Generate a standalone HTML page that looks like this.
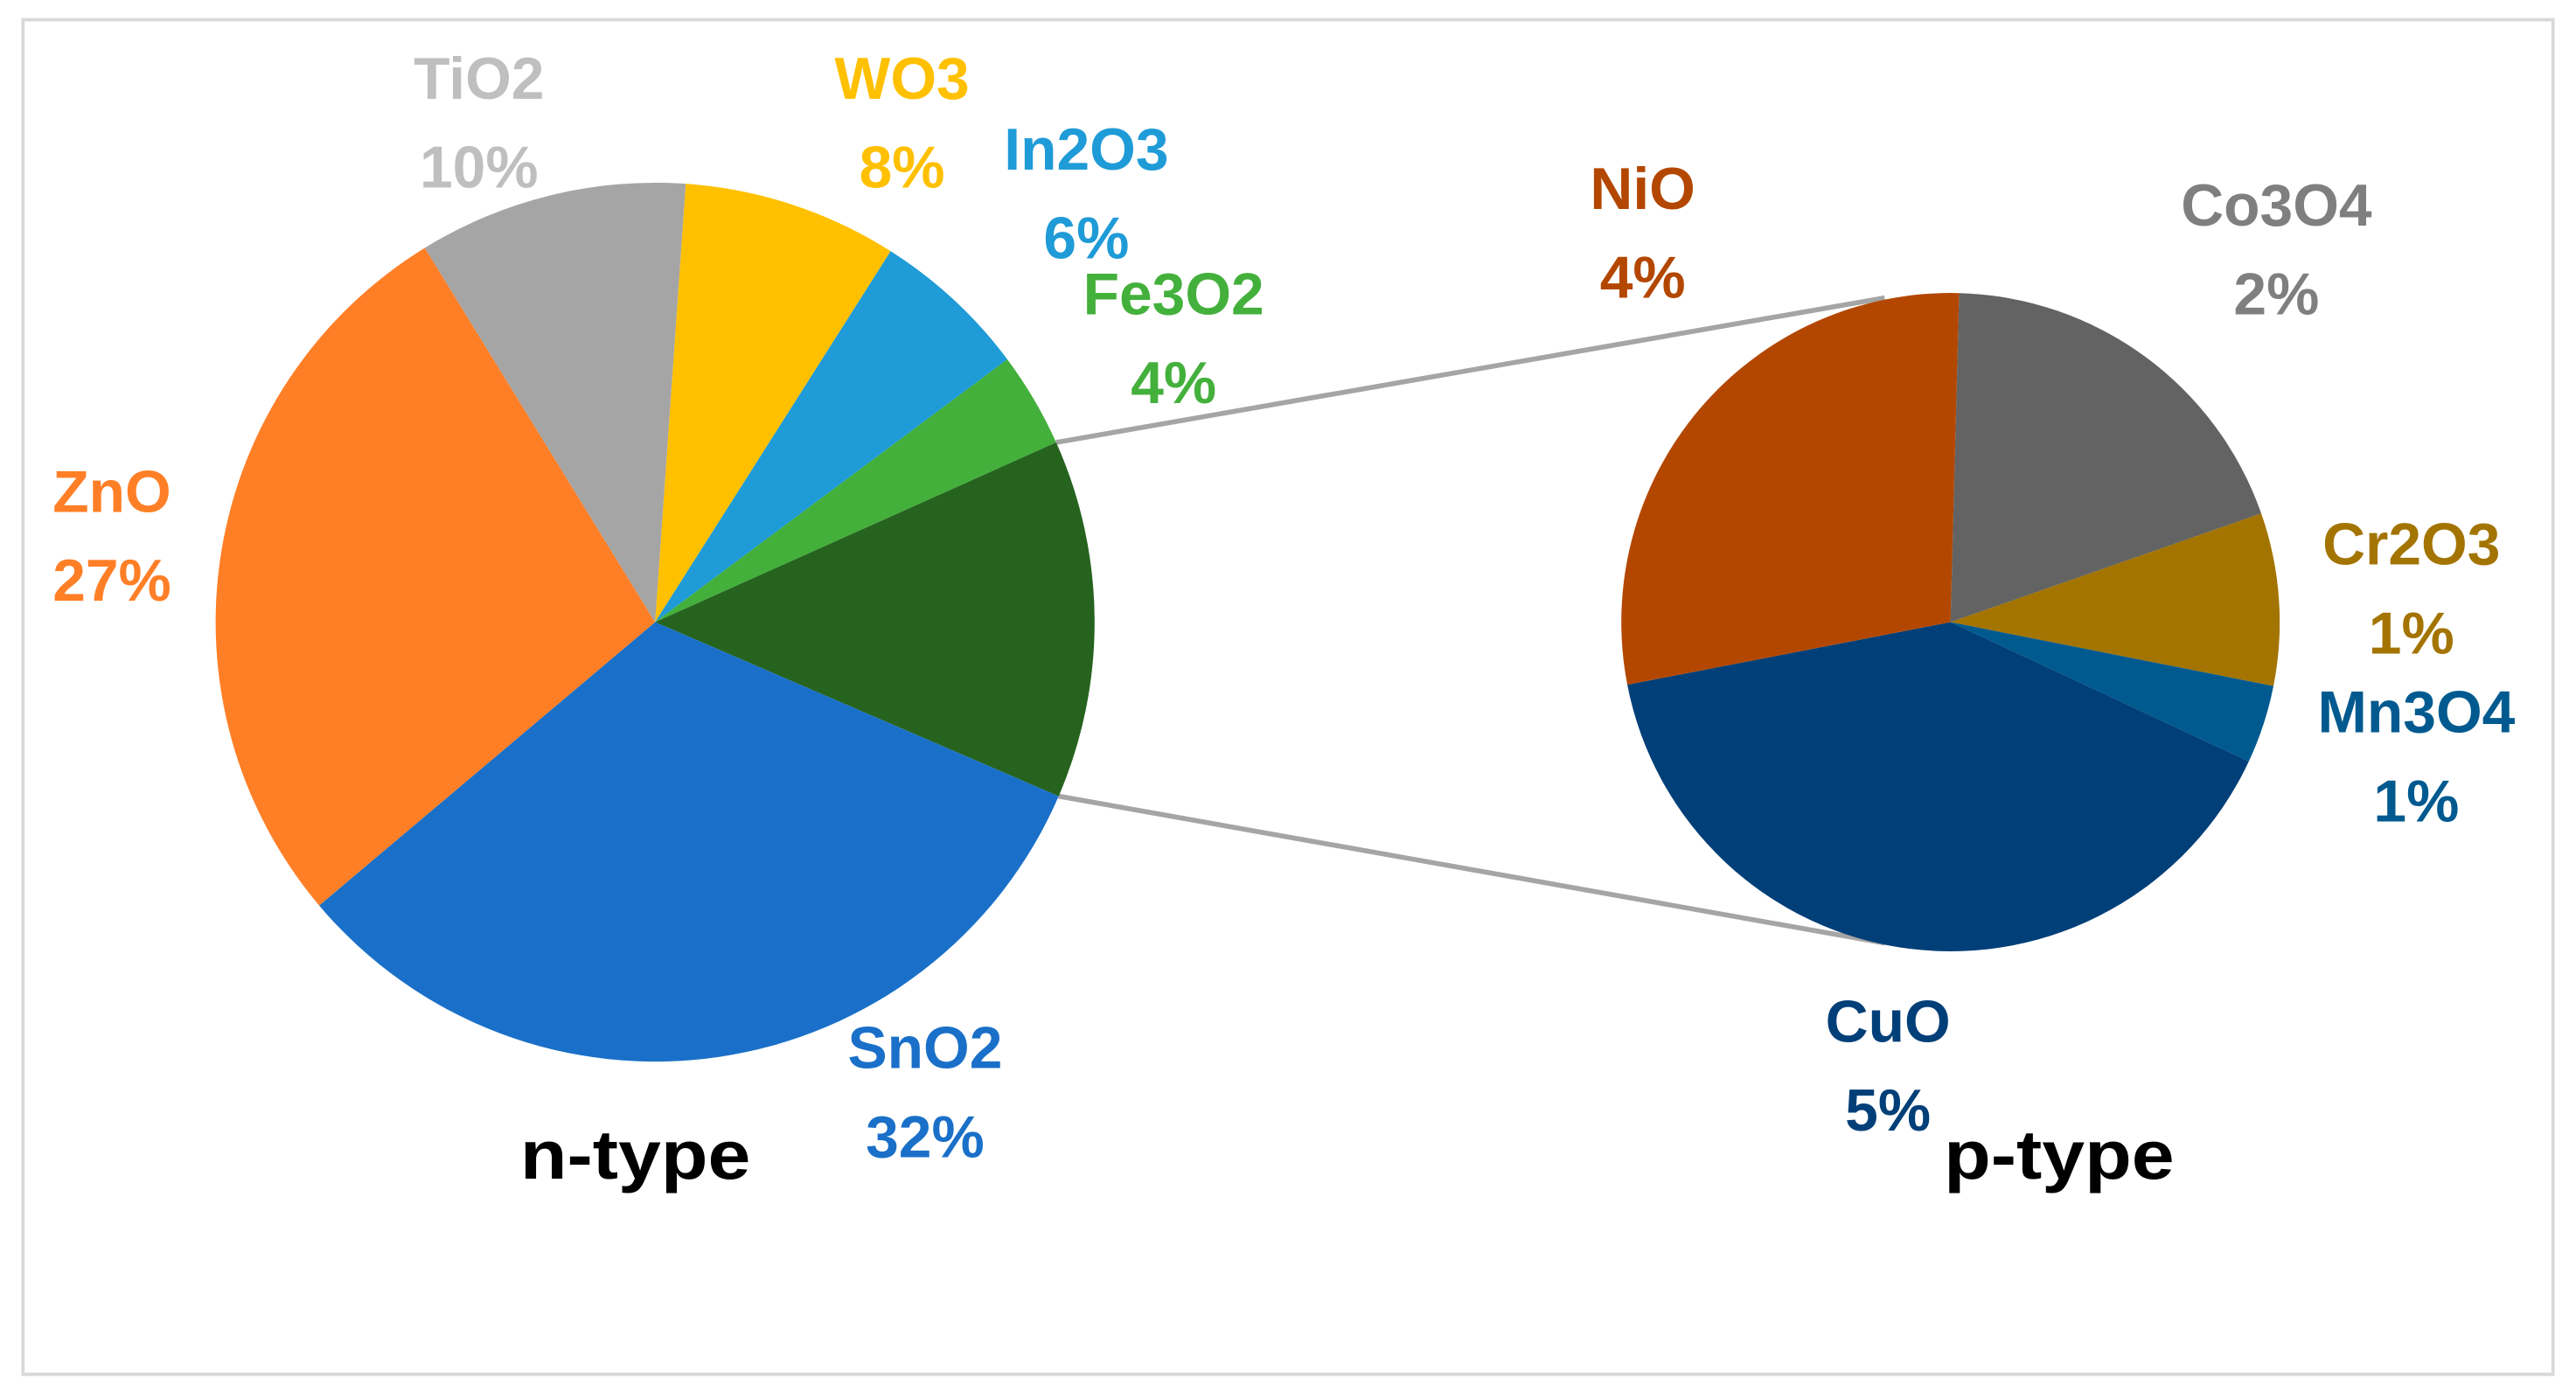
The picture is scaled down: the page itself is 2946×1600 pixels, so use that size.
<!DOCTYPE html>
<html><head><meta charset="utf-8"><style>
html,body{margin:0;padding:0;background:#fff;}
svg{display:block;}
text{font-family:"Liberation Sans",sans-serif;font-weight:bold;text-anchor:middle;}
</style></head><body>
<svg id="chart" width="2946" height="1600" viewBox="0 0 1565 850" preserveAspectRatio="none" xmlns="http://www.w3.org/2000/svg">
<rect x="14" y="12" width="1537" height="823" fill="#fff" stroke="#d9d9d9" stroke-width="2"/>
<g id="connectors"></g>
<g id="leftPie"></g>
<g id="rightPie"></g>
<g id="labels"></g>
<text x="386" y="716" font-size="42" fill="#000" textLength="140" lengthAdjust="spacingAndGlyphs">n-type</text>
<text x="1251" y="716" font-size="42" fill="#000" textLength="140" lengthAdjust="spacingAndGlyphs">p-type</text>
</svg>
<script>
const nCategories = ["WO3","In2O3","Fe3O2","p-type","SnO2","ZnO","TiO2"];
const nValues = [7.9,5.8,3.5,13.2,32.4,27.4,9.9];
const nLabels = ["8%","6%","4%","","32%","27%","10%"];
const nColors = ["#ffc000","#1f9bd7","#44b03c","#26631f","#1a70c8","#ff7f27","#a5a5a5"];
const pCategories = ["Co3O4","Cr2O3","Mn3O4","CuO","NiO"];
const pValues = [2.5,1.1,0.5,5.2,3.7];
const pLabels = ["2%","1%","1%","5%","4%"];
const pColors = ["#636363","#a37400","#005a8f","#003f78","#b34700"];

const NS="http://www.w3.org/2000/svg";
function pt(cx,cy,r,deg){const a=deg*Math.PI/180;return [cx+r*Math.sin(a),cy-r*Math.cos(a)];}
function drawPie(g,cx,cy,r,start,vals,cols,names){
  const tot=vals.reduce((a,b)=>a+b,0);let ang=start;const bounds=[];
  vals.forEach((v,i)=>{
    const sweep=v/tot*360;const p1=pt(cx,cy,r,ang),p2=pt(cx,cy,r,ang+sweep);
    const p=document.createElementNS(NS,"path");
    p.setAttribute("d",`M${cx},${cy}L${p1[0]},${p1[1]}A${r},${r} 0 ${sweep>180?1:0} 1 ${p2[0]},${p2[1]}Z`);
    p.setAttribute("fill",cols[i]);
    
    
    g.appendChild(p);bounds.push([ang,ang+sweep]);ang+=sweep;
  });
  return bounds;
}
const lb=drawPie(document.getElementById("leftPie"),398,378,267,4,nValues,nColors,nCategories);
drawPie(document.getElementById("rightPie"),1185,378,200,1.5,pValues,pColors,pCategories);
const oi=nCategories.indexOf("p-type");
const a1=pt(398,378,267,lb[oi][0]),a2=pt(398,378,267,lb[oi][1]);
const cg=document.getElementById("connectors");
[[a1,[1145,181]],[a2,[1145,573]]].forEach((s,i)=>{
  const l=document.createElementNS(NS,"line");
  l.setAttribute("x1",s[0][0]);l.setAttribute("y1",s[0][1]);l.setAttribute("x2",s[1][0]);l.setAttribute("y2",s[1][1]);
  l.setAttribute("stroke","#a5a5a5");l.setAttribute("stroke-width","3");
  
  
  cg.appendChild(l);
});
const labelPos={WO3:[548,47,"#ffc000"],In2O3:[660,90,"#1f9bd7"],Fe3O2:[713,178,"#44b03c"],SnO2:[562,636,"#1a70c8"],ZnO:[68,298,"#ff7f27"],TiO2:[291,47,"#bfbfbf"],
Co3O4:[1383,124,"#7f7f7f"],Cr2O3:[1465,330,"#a37400"],Mn3O4:[1468,432,"#005a8f"],CuO:[1147,620,"#003f78"],NiO:[998,114,"#b34700"]};
const lg=document.getElementById("labels");
function addLabel(name,pct){
  const p=labelPos[name];if(!p)return;
  [[name,p[1]+13],[pct,p[1]+67]].forEach((t,k)=>{
    const e=document.createElementNS(NS,"text");
    e.setAttribute("x",p[0]);e.setAttribute("y",t[1]);e.setAttribute("font-size","36");e.setAttribute("fill",p[2]);
    e.textContent=t[0];
    
    
    lg.appendChild(e);
  });
}
nCategories.forEach((c,i)=>addLabel(c,nLabels[i]));
pCategories.forEach((c,i)=>addLabel(c,pLabels[i]));
</script>
</body></html>
